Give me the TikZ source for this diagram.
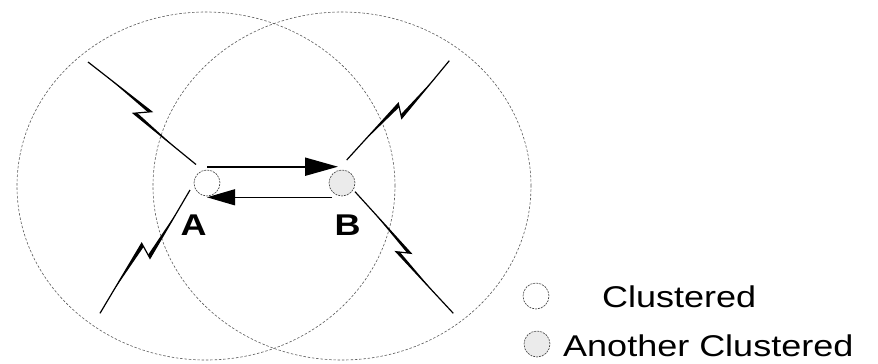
\documentclass[tikz,border=0pt]{standalone}
\usepackage{fontspec}
\setmainfont{Liberation Sans}
\newfontfamily\lsans[FakeStretch=1.2]{Liberation Sans}
\usetikzlibrary{arrows.meta,calc}
\newcommand\mybolt[4]{%
  \fill ($(#1)!0.3!(#2)$) -- (#2) -- ($(#2)!4pt!(#3)$) -- cycle;
  \fill ($(#4)!0.3!(#3)$) -- (#3) -- ($(#3)!4pt!(#2)$) -- cycle;
  \draw[boltline] (#1) -- (#2) -- (#3) -- (#4);
}
\begin{document}
\begin{tikzpicture}[x=1pt,y=-1pt,
  coverage/.style={draw=black!65,dash pattern=on 2.5pt off 1.8pt,line width=0.6pt},
  sensor/.style={circle,draw=black!75,dash pattern=on 2pt off 1pt,line width=0.6pt,minimum size=26pt,inner sep=0pt},
  clusterA/.style={sensor,fill=white},
  clusterB/.style={sensor,fill=black!8},
  boltline/.style={line width=1.2pt,line join=miter,line cap=butt},
  bigarrow/.style={line width=2pt,-{Triangle[length=33pt,width=18pt]}},
  smallarrow/.style={line width=1.2pt,-{Triangle[length=28pt,width=16pt]}},
  lbl/.style={font=\lsans\bfseries\fontsize{30}{36}\selectfont,inner sep=0pt,anchor=base},
  legtxt/.style={font=\lsans\fontsize{30}{36}\selectfont,inner sep=0pt,text depth=0pt,anchor=base west}
]
\useasboundingbox (0,0) rectangle (878,364);
% coverage ranges
\draw[coverage] (206,186) ellipse [x radius=189pt, y radius=174pt];
\draw[coverage] (342,186) ellipse [x radius=189pt, y radius=174pt];
% nodes
\node[clusterA] (A) at (207,183) {};
\node[clusterB] (B) at (342,183) {};
\node[lbl] (la) at (193.5,235) {A};
\node[lbl] (lb) at (347.5,235) {B};
% arrows
\draw[bigarrow] ([yshift=3pt]A.north) -- ([xshift=-4pt,yshift=3pt]B.north);
\draw[smallarrow] ([xshift=-10pt,yshift=-1pt]B.south) -- ([yshift=-1pt]A.south);
% lightning links
\coordinate (tlS) at (88,62);   \coordinate (tlZ1) at (151.7,111.7);
\coordinate (tlZ2) at (133.3,113.3); \coordinate (tlE) at (196,164.5);
\coordinate (trS) at (449.3,60.7); \coordinate (trZ1) at (401.7,118.3);
\coordinate (trZ2) at (398.3,103.3); \coordinate (trE) at (346.7,160);
\coordinate (blS) at (100,313.3); \coordinate (blZ1) at (141.7,243.3);
\coordinate (blZ2) at (150,258.3); \coordinate (blE) at (190,190);
\coordinate (brS) at (453.3,313.3); \coordinate (brZ1) at (396,251.7);
\coordinate (brZ2) at (411,253.3); \coordinate (brE) at (355,191.7);
\mybolt{tlS}{tlZ1}{tlZ2}{tlE}
\mybolt{trS}{trZ1}{trZ2}{trE}
\mybolt{blS}{blZ1}{blZ2}{blE}
\mybolt{brS}{brZ1}{brZ2}{brE}
% legend
\node[clusterA] (k1) at (536,296) {};
\node[clusterB] (k2) at (537,344) {};
\node[legtxt] (t1) at (602,307) {Clustered};
\node[legtxt] (t2) at (563,356) {Another Clustered};
\end{tikzpicture}
\end{document}
